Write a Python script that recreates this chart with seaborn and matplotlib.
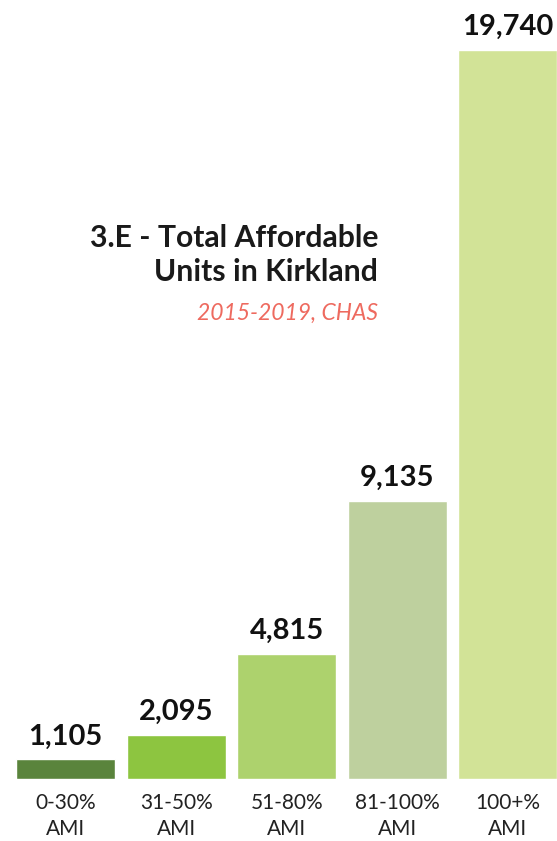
import numpy as np
import pandas as pd
import matplotlib
matplotlib.use("Agg")
import matplotlib.pyplot as plt
import seaborn as sns

categories = ["0-30%\nAMI", "31-50%\nAMI", "51-80%\nAMI", "81-100%\nAMI", "100+%\nAMI"]
units = [1105, 2095, 4815, 9135, 19740]
colors = ["#5A843C", "#8DC540", "#ADD26D", "#BED09E", "#D2E397"]

title_text = "3.E - Total Affordable\nUnits in Kirkland"
subtitle_text = "2015-2019, CHAS"

sns.set_theme(style="white")
plt.rcParams["font.family"] = ["Lato", "DejaVu Sans"]

W, H = 557, 841
fig = plt.figure(figsize=(W / 100, H / 100), dpi=100)
ax = fig.add_axes([0, 62 / H, 1, (791 - 62) / H])

df = pd.DataFrame({"cat": categories, "units": units})
sns.barplot(data=df, x="cat", y="units", hue="cat", palette=colors,
            legend=False, width=0.894, ax=ax, saturation=1)

p = 1.25
ax.set_yscale("function", functions=(lambda y: np.sign(y) * np.abs(y) ** p,
                                     lambda y: np.sign(y) * np.abs(y) ** (1 / p)))
ax.set_ylim(0, max(units))
ax.set_xlim(-0.592, 4.444)

for c in ax.containers:
    ax.bar_label(c, fmt="{:,.0f}", padding=7, fontsize=21, fontweight="bold",
                 color="#111111", clip_on=False)

ax.set_xlabel("")
ax.set_ylabel("")
ax.set_yticks([])
ax.tick_params(axis="x", length=0, pad=10, labelsize=15, labelcolor="#222222")
for t in ax.get_xticklabels():
    t.set_linespacing(1.4)
sns.despine(ax=ax, left=True, bottom=True)
ax.grid(False)

fig.text(378 / W, 1 - 224 / H, title_text, ha="right", va="top", fontsize=21.7,
         fontweight="bold", color="#1a1a1a", linespacing=1.25)
fig.text(378 / W, 1 - 320 / H, subtitle_text, ha="right", va="baseline", fontsize=16.5,
         fontweight="normal", style="italic", color="#EE6A5F")

fig.savefig("out.png", dpi=100)
